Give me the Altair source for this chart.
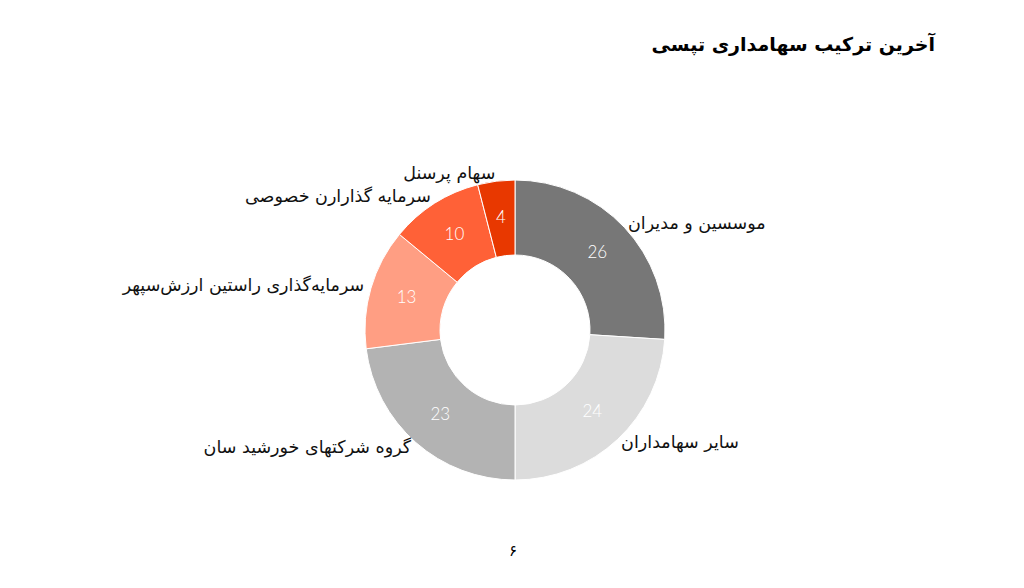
import altair as alt
import pandas as pd

labels = [
    "موسسین و مدیران",
    "سایر سهامداران",
    "گروه شرکتهای خورشید سان",
    "سرمایه‌گذاری راستین ارزش‌سپهر",
    "سرمایه گذارارن خصوصی",
    "سهام پرسنل",
]
values = [26, 24, 23, 13, 10, 4]
colors = ["#777777", "#dcdcdc", "#b3b3b3", "#ff9e83", "#ff6137", "#e83800"]
title_text = "آخرین ترکیب سهامداری تپسی"
page_text = "۶"

CX, CY = 507, 322
FONT = "DejaVu Sans"

df = pd.DataFrame({"label": labels, "value": values, "idx": list(range(len(labels)))})

color_scale = alt.Scale(domain=labels, range=colors)

arc = alt.Chart(df).mark_arc(innerRadius=75, outerRadius=150, stroke="white", strokeWidth=1).encode(
    theta=alt.Theta("value:Q", stack=True),
    order=alt.Order("idx:Q"),
    color=alt.Color("label:N", scale=color_scale, legend=None),
    x=alt.value(CX),
    y=alt.value(CY),
)

mid = (
    alt.Chart(df)
    .transform_joinaggregate(total="sum(value)")
    .transform_window(cum="sum(value)", sort=[{"field": "idx"}], frame=[None, 0])
    .transform_calculate(midfrac="(datum.cum - datum.value/2)/datum.total")
)
theta_mid = alt.Theta("midfrac:Q", scale=alt.Scale(domain=[0, 1], range=[0, 6.283185307]))

vals = mid.mark_text(radius=113, font="Lato", fontSize=17, fontWeight=300, color="white").encode(
    theta=theta_mid, text=alt.Text("value:Q"), x=alt.value(CX), y=alt.value(CY)
)

right_lab = mid.transform_filter("datum.midfrac < 0.5").mark_text(
    radius=155, font=FONT, fontSize=17.5, color="#111111", align="left"
).encode(theta=theta_mid, text="label:N", x=alt.value(CX), y=alt.value(CY))

left_lab = mid.transform_filter("datum.midfrac >= 0.5").mark_text(
    radius=157, font=FONT, fontSize=17.5, color="#111111", align="right"
).encode(theta=theta_mid, text="label:N", x=alt.value(CX), y=alt.value(CY))

tdf = pd.DataFrame({"t": [title_text]})
title = alt.Chart(tdf).mark_text(
    font=FONT, fontSize=19, fontWeight="bold", color="#000000", align="right", baseline="middle"
).encode(text="t:N", x=alt.value(927), y=alt.value(37))

pdf = pd.DataFrame({"p": [page_text]})
page = alt.Chart(pdf).mark_text(
    font=FONT, fontSize=15, color="#000000", align="center", baseline="middle"
).encode(text="p:N", x=alt.value(505), y=alt.value(543))

chart = (
    alt.layer(arc, vals, right_lab, left_lab, title, page)
    .resolve_scale(theta="independent")
    .properties(
        width=1008,
        height=572,
        autosize=alt.AutoSizeParams(type="fit", contains="padding"),
        padding=0,
        background="white",
    )
    .configure_view(stroke=None)
)

chart.save("out.html", embed_options={"renderer": "svg", "actions": False})
